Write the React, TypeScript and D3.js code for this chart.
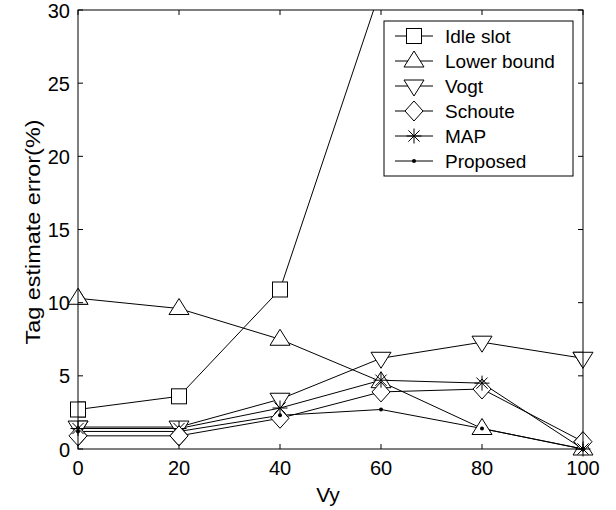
import React from "react";
import * as d3 from "d3";

const xValues = [0, 20, 40, 60, 80, 100];
const xTicks = [0, 20, 40, 60, 80, 100];
const yTicks = [0, 5, 10, 15, 20, 25, 30];

const idleSlot = [2.7, 3.6, 10.9, 31.5];
const lowerBound = [10.3, 9.6, 7.5, 4.6, 1.4, 0];
const vogt = [1.5, 1.5, 3.4, 6.2, 7.3, 6.2];
const schoute = [0.9, 0.9, 2.1, 3.9, 4.1, 0.5];
const mapEst = [1.4, 1.4, 2.8, 4.7, 4.5, 0];
const proposed = [1.2, 1.2, 2.3, 2.7, 1.4, 0];

const seriesNames = ["Idle slot", "Lower bound", "Vogt", "Schoute", "MAP", "Proposed"];
const seriesData = [idleSlot, lowerBound, vogt, schoute, mapEst, proposed];
const markers = ["square", "up", "down", "diamond", "star", "dot"];

const W = 616, H = 510;
const L = 78, R = 583, T = 10, B = 449;

function Marker({ type, x, y }: { type: string; x: number; y: number }) {
  const s = { fill: "white", stroke: "black", strokeWidth: 1 };
  if (type === "square") return <rect x={x - 7.5} y={y - 7.5} width={15} height={15} {...s} />;
  if (type === "up") return <path d={`M${x},${y - 10}L${x + 10},${y + 6}L${x - 10},${y + 6}Z`} {...s} />;
  if (type === "down") return <path d={`M${x},${y + 10}L${x + 10},${y - 6}L${x - 10},${y - 6}Z`} {...s} />;
  if (type === "diamond") return <path d={`M${x},${y - 10}L${x + 9},${y}L${x},${y + 10}L${x - 9},${y}Z`} {...s} />;
  if (type === "star") {
    const r = 7.5;
    return (
      <g stroke="black" strokeWidth={1}>
        <line x1={x - r} y1={y} x2={x + r} y2={y} />
        <line x1={x} y1={y - r} x2={x} y2={y + r} />
        <line x1={x - r * 0.75} y1={y - r * 0.75} x2={x + r * 0.75} y2={y + r * 0.75} />
        <line x1={x - r * 0.75} y1={y + r * 0.75} x2={x + r * 0.75} y2={y - r * 0.75} />
      </g>
    );
  }
  return <circle cx={x} cy={y} r={2} fill="black" />;
}

export default function App() {
  const xs = d3.scaleLinear().domain([0, 100]).range([L, R]);
  const ys = d3.scaleLinear().domain([0, 30]).range([B, T]);
  const line = d3.line<number>().x((_, i) => xs(xValues[i])).y((d) => ys(d));
  const font = "Liberation Sans, Arial, sans-serif";
  const legX = 384, legY = 21, legW = 189, legH = 155;
  const rowY = [36, 61, 86, 111, 136, 161];
  return (
    <svg width={W} height={H} style={{ position: "absolute", left: 0, top: 0, background: "white" }} fontFamily={font}>
      <defs>
        <clipPath id="plot">
          <rect x={L} y={T} width={R - L} height={B - T} />
        </clipPath>
      </defs>
      <rect x={0} y={0} width={W} height={H} fill="white" />
      <g clipPath="url(#plot)">
        {seriesData.map((d, i) => (
          <path key={i} d={line(d) || ""} fill="none" stroke="black" strokeWidth={1} />
        ))}
        {seriesData.map((d, i) =>
          d.map((v, j) => <Marker key={`${i}-${j}`} type={markers[i]} x={xs(xValues[j])} y={ys(v)} />)
        )}
      </g>
      {seriesData.map((d, i) =>
        d.map((v, j) =>
          (xValues[j] === 0 || xValues[j] === 100 || v <= 1) && v <= 30 ? (
            <Marker key={`e${i}-${j}`} type={markers[i]} x={xs(xValues[j])} y={ys(v)} />
          ) : null
        )
      )}
      <rect x={L} y={T} width={R - L} height={B - T} fill="none" stroke="black" strokeWidth={1} />
      {xTicks.map((t) => (
        <g key={t}>
          <line x1={xs(t)} x2={xs(t)} y1={B} y2={B - 5} stroke="black" />
          <line x1={xs(t)} x2={xs(t)} y1={T} y2={T + 5} stroke="black" />
          <text x={xs(t)} y={B + 26} textAnchor="middle" fontSize={20}>{t}</text>
        </g>
      ))}
      {yTicks.map((t) => (
        <g key={t}>
          <line x1={L} x2={L + 5} y1={ys(t)} y2={ys(t)} stroke="black" />
          <line x1={R} x2={R - 5} y1={ys(t)} y2={ys(t)} stroke="black" />
          <text x={L - 8} y={ys(t) + 7.5} textAnchor="end" fontSize={20}>{t}</text>
        </g>
      ))}
      <text x={328} y={502} textAnchor="middle" fontSize={21}>Vy</text>
      <text transform={`translate(40,232) rotate(-90)`} textAnchor="middle" fontSize={20} textLength={225} lengthAdjust="spacingAndGlyphs">Tag estimate error(%)</text>
      <rect x={legX} y={legY} width={legW} height={legH} fill="white" stroke="black" />
      {seriesNames.map((n, i) => (
        <g key={n}>
          <line x1={395} x2={433} y1={rowY[i]} y2={rowY[i]} stroke="black" />
          <Marker type={markers[i]} x={414} y={rowY[i]} />
          <text x={445} y={rowY[i] + 7} fontSize={19}>{n}</text>
        </g>
      ))}
    </svg>
  );
}
